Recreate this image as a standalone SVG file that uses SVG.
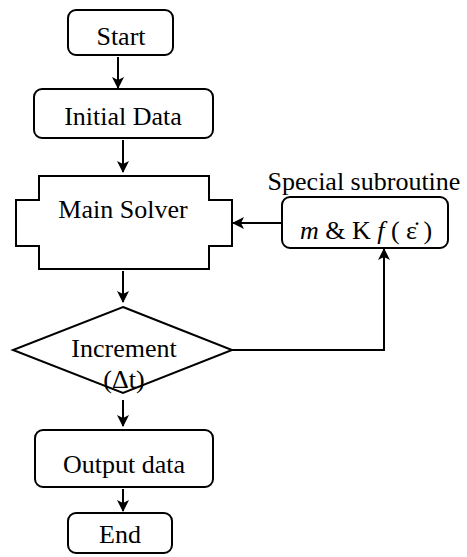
<svg xmlns="http://www.w3.org/2000/svg" width="467" height="557" viewBox="0 0 467 557">
<defs>
<marker id="ah" viewBox="0 0 12 12" refX="11" refY="6" markerWidth="12" markerHeight="12" markerUnits="userSpaceOnUse" orient="auto">
<path d="M0,0 L12,6 L0,12 L3,6 Z" fill="#000"/>
</marker>
</defs>
<g fill="#fff" stroke="#000" stroke-width="2">
<g id="start"><rect x="68" y="10" width="105" height="45" rx="8"/><text x="121" y="45" font-family="Times New Roman" font-size="26" text-anchor="middle" fill="#000" stroke="none">Start</text></g>
<g id="initial"><rect x="34" y="89" width="179" height="49" rx="8"/><text x="123" y="125" font-family="Times New Roman" font-size="26" text-anchor="middle" fill="#000" stroke="none">Initial Data</text></g>
<g id="solver"><path d="M39,176 H209 V200 H232 V246 H209 V269 H39 V246 H16 V200 H39 Z"/><text x="123" y="218" font-family="Times New Roman" font-size="26" text-anchor="middle" fill="#000" stroke="none">Main Solver</text></g>
<g id="subroutine"><text x="364" y="190" font-family="Times New Roman" font-size="26" text-anchor="middle" fill="#000" stroke="none">Special subroutine</text><rect x="282" y="197" width="166" height="51" rx="8"/>
<text x="366" y="239" font-family="Times New Roman" font-size="26" text-anchor="middle" fill="#000" stroke="none"><tspan font-style="italic">m</tspan> &amp; K <tspan font-style="italic">f</tspan> ( ε̇ )</text></g>
<g id="increment"><path d="M123,307 L232,350 L123,393 L13,350 Z"/><text x="124" y="357" font-family="Times New Roman" font-size="26" text-anchor="middle" fill="#000" stroke="none">Increment</text><text x="124" y="388" font-family="Times New Roman" font-size="26" text-anchor="middle" fill="#000" stroke="none">(Δt)</text></g>
<g id="output"><rect x="35" y="430" width="178" height="57" rx="8"/><text x="124" y="473" font-family="Times New Roman" font-size="26" text-anchor="middle" fill="#000" stroke="none">Output data</text></g>
<g id="end"><rect x="68" y="513" width="104" height="40" rx="8"/><text x="120" y="543" font-family="Times New Roman" font-size="26" text-anchor="middle" fill="#000" stroke="none">End</text></g>
</g>
<g id="connectors" fill="none" stroke="#000" stroke-width="2">
<line x1="118" y1="57" x2="118" y2="88" marker-end="url(#ah)"/>
<line x1="123" y1="140" x2="123" y2="172" marker-end="url(#ah)"/>
<line x1="123" y1="271" x2="123" y2="302" marker-end="url(#ah)"/>
<line x1="123" y1="400" x2="123" y2="426" marker-end="url(#ah)"/>
<line x1="123" y1="489" x2="123" y2="511" marker-end="url(#ah)"/>
<line x1="282" y1="223" x2="233" y2="223" marker-end="url(#ah)"/>
<polyline points="232,350 384,350 384,249" marker-end="url(#ah)"/>
</g>
</svg>
